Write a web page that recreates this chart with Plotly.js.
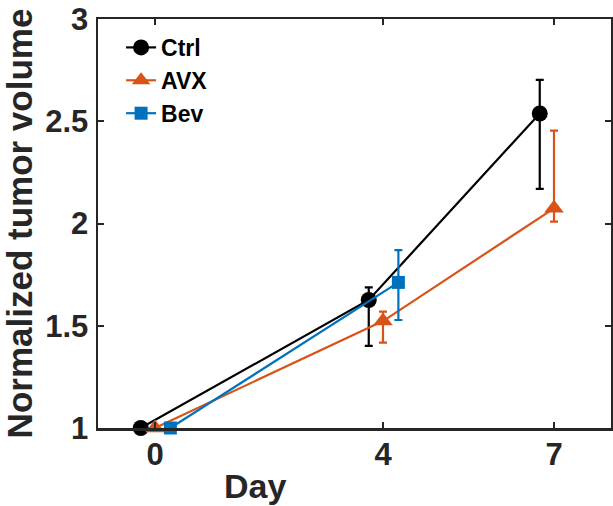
<!DOCTYPE html>
<html>
<head>
<meta charset="utf-8">
<script src="https://cdn.plot.ly/plotly-3.0.1.min.js"></script>
<style>html,body{margin:0;padding:0;background:#fff;}#chart{width:613px;height:506px;}</style>
</head>
<body>
<div id="chart"></div>
<script>
// ---- data ----
const seriesNames = ["Ctrl", "AVX", "Bev"];
const ctrlDays = [0, 4, 7];
const ctrlMean = [1.0, 1.626, 2.538];
const ctrlUpper = [1.0, 1.688, 2.702];
const ctrlLower = [1.0, 1.402, 2.169];

const avxDays = [0, 4, 7];
const avxMean = [1.0, 1.523, 2.074];
const avxUpper = [1.0, 1.569, 2.454];
const avxLower = [1.0, 1.417, 2.009];

const bevDays = [0, 4];
const bevMean = [1.0, 1.712];
const bevUpper = [1.0, 1.870];
const bevLower = [1.0, 1.528];

const xTickVals = [0, 4, 7];
const xTickText = ["0", "4", "7"];
const yTickVals = [1, 1.5, 2, 2.5, 3];
const yTickText = ["1", "1.5", "2", "2.5", "3"];

// ---- presentation ----
const FONT = "Liberation Sans, Arial, Helvetica, sans-serif";
const AX = "#262626";

function mk(name, days, shift, mean, upper, lower, color, symbol, size) {
  return {
    type: "scatter", mode: "lines+markers", name: name,
    x: days.map(d => d + shift), y: mean,
    line: {color: color, width: 2.2},
    marker: {symbol: symbol, size: size, color: color, line: {width: 0}},
    error_y: {
      type: "data", symmetric: false,
      array: upper.map((u, i) => +(u - mean[i]).toFixed(4)),
      arrayminus: lower.map((l, i) => +(mean[i] - l).toFixed(4)),
      color: color, thickness: 2.2, width: 4, visible: true
    },
    cliponaxis: false
  };
}

const traces = [
  mk(seriesNames[0], ctrlDays, -0.25, ctrlMean, ctrlUpper, ctrlLower, "#000000", "circle", 16),
  mk(seriesNames[1], avxDays, 0, avxMean, avxUpper, avxLower, "#D95319", "triangle-up", 17),
  mk(seriesNames[2], bevDays, 0.27, bevMean, bevUpper, bevLower, "#0072BD", "square", 13)
];

const layout = {
  width: 613, height: 506,
  margin: {l: 98, r: 2, t: 19, b: 78, pad: 0},
  paper_bgcolor: "#fff", plot_bgcolor: "#fff",
  showlegend: true,
  legend: {
    x: 0.045, y: 0.983, xanchor: "left", yanchor: "top",
    bgcolor: "rgba(0,0,0,0)", borderwidth: 0,
    font: {family: FONT, size: 23, color: "#000", weight: "bold"},
    tracegroupgap: 0, itemwidth: 30
  },
  xaxis: {
    range: [-1, 8], tickvals: xTickVals, ticktext: xTickText,
    showline: true, linecolor: AX, linewidth: 2.5, mirror: "ticks",
    ticks: "inside", ticklen: 6, tickwidth: 2, tickcolor: AX,
    showgrid: false, zeroline: false,
    tickfont: {family: FONT, size: 31, color: AX, weight: "bold"},
    ticklabelstandoff: -3
  },
  yaxis: {
    range: [1, 3], tickvals: yTickVals, ticktext: yTickText,
    showline: true, linecolor: AX, linewidth: 2.5, mirror: "ticks",
    ticks: "inside", ticklen: 6, tickwidth: 2, tickcolor: AX,
    showgrid: false, zeroline: false,
    tickfont: {family: FONT, size: 31, color: AX, weight: "bold"},
    ticklabelstandoff: 1,
    title: {text: "Normalized tumor volume", font: {family: FONT, size: 35, color: AX, weight: "bold"}, standoff: 8}
  },
  annotations: [{
    text: "Day", xref: "paper", yref: "paper", x: 0.306, y: 0, yshift: -58,
    xanchor: "center", yanchor: "middle", showarrow: false,
    font: {family: FONT, size: 34, color: AX, weight: "bold"}
  }]
};

Plotly.newPlot("chart", traces, layout, {displayModeBar: false, staticPlot: true});
</script>
</body>
</html>
